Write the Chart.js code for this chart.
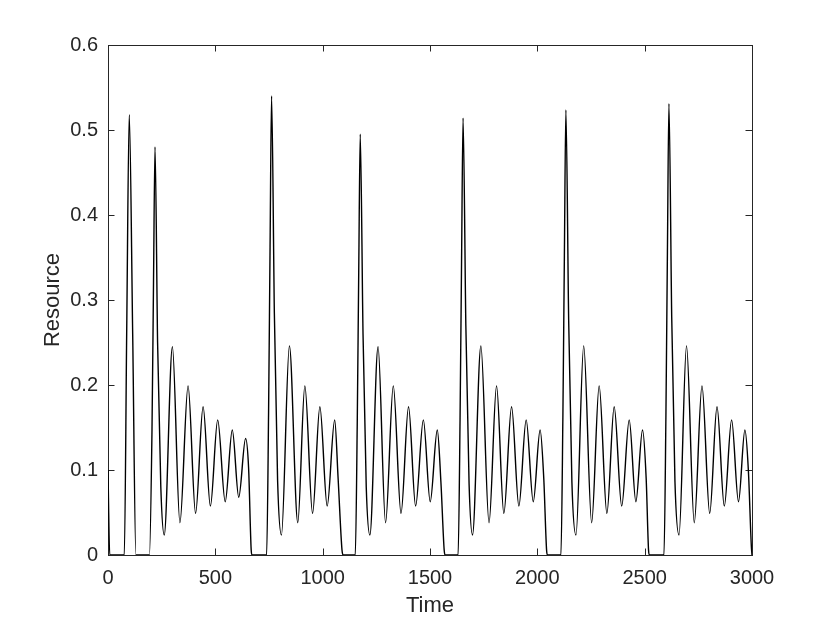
<!DOCTYPE html>
<html>
<head>
<meta charset="utf-8">
<script src="https://cdn.jsdelivr.net/npm/chart.js@4/dist/chart.umd.min.js"></script>
<style>
  html, body { margin: 0; padding: 0; background: #ffffff; }
  #wrap { width: 830px; height: 623px; }
</style>
</head>
<body>
<div id="wrap"><canvas id="c" width="830" height="623"></canvas></div>
<script>
// ---- Data ----
const cycle1Time  = [0, 8, 76, 87, 99, 115, 130, 193, 205, 212, 219, 231, 246, 262, 300, 335, 373, 408, 443, 477, 511, 546, 579, 609, 641, 655, 667, 671];
const cycle1Value = [0.10, 0, 0, 0.26, 0.518, 0.26, 0, 0, 0.148, 0.32, 0.480, 0.25, 0.08, 0.0235, 0.245, 0.038, 0.199, 0.049, 0.1745, 0.0576, 0.159, 0.0627, 0.147, 0.068, 0.137, 0.102, 0.006, 0];

const cycle2Time  = [739, 748, 755, 762, 775, 790, 808, 845, 884, 917, 953, 987, 1021, 1056, 1072, 1090, 1095];
const cycle2Value = [0, 0.167, 0.363, 0.540, 0.284, 0.088, 0.0235, 0.246, 0.038, 0.199, 0.049, 0.1745, 0.0576, 0.159, 0.09, 0.006, 0];

const cycle3Time  = [1152, 1161, 1168, 1175, 1188, 1203, 1220, 1258, 1293, 1329, 1365, 1400, 1433, 1469, 1501, 1534, 1551, 1566, 1570];
const cycle3Value = [0, 0.153, 0.333, 0.495, 0.26, 0.08, 0.0235, 0.245, 0.038, 0.199, 0.049, 0.1745, 0.0576, 0.159, 0.0627, 0.147, 0.085, 0.006, 0];

const cycle4Time  = [1631, 1640, 1647, 1654, 1667, 1682, 1698, 1737, 1775, 1810, 1844, 1880, 1914, 1948, 1981, 2013, 2030, 2043, 2047];
const cycle4Value = [0, 0.159, 0.345, 0.514, 0.27, 0.084, 0.0235, 0.246, 0.038, 0.199, 0.049, 0.1745, 0.0576, 0.159, 0.0627, 0.147, 0.09, 0.006, 0];

const cycle5Time  = [2110, 2119, 2126, 2133, 2146, 2161, 2180, 2216, 2253, 2288, 2324, 2358, 2393, 2428, 2459, 2490, 2507, 2518, 2522];
const cycle5Value = [0, 0.162, 0.352, 0.5235, 0.276, 0.086, 0.0235, 0.246, 0.038, 0.199, 0.049, 0.1745, 0.0576, 0.159, 0.0627, 0.147, 0.09, 0.006, 0];

const cycle6Time  = [2590, 2599, 2606, 2613, 2626, 2641, 2660, 2695, 2731, 2767, 2803, 2837, 2871, 2905, 2937, 2967, 2983, 2997, 3000];
const cycle6Value = [0, 0.164, 0.357, 0.531, 0.28, 0.087, 0.0235, 0.246, 0.038, 0.199, 0.049, 0.1745, 0.0576, 0.159, 0.0627, 0.147, 0.10, 0.01, 0];

const xTickLabels = ['0', '500', '1000', '1500', '2000', '2500', '3000'];
const yTickLabels = ['0', '0.1', '0.2', '0.3', '0.4', '0.5', '0.6'];
const xTitle = 'Time';
const yTitle = 'Resource';

// ---- Build point list ----
const allTimes = [].concat(cycle1Time, cycle2Time, cycle3Time, cycle4Time, cycle5Time, cycle6Time);
const allValues = [].concat(cycle1Value, cycle2Value, cycle3Value, cycle4Value, cycle5Value, cycle6Value);
const points = allTimes.map((t, i) => ({ x: t, y: allValues[i] }));

const AXIS_COLOR = '#262626';
const FONT = "'Liberation Sans', Arial, Helvetica, sans-serif";

// Box around the axes with inward ticks on all four sides (MATLAB style)
const matlabBox = {
  id: 'matlabBox',
  beforeDatasetsDraw(chart) {
    const { ctx, chartArea: a, scales } = chart;
    const L = 6.5;
    ctx.save();
    ctx.strokeStyle = AXIS_COLOR;
    ctx.lineWidth = 1;
    ctx.beginPath();
    scales.x.ticks.forEach(t => {
      const px = Math.round(scales.x.getPixelForValue(t.value)) + 0.5;
      ctx.moveTo(px, a.bottom); ctx.lineTo(px, a.bottom - L);
      ctx.moveTo(px, a.top); ctx.lineTo(px, a.top + L);
    });
    scales.y.ticks.forEach(t => {
      const py = Math.round(scales.y.getPixelForValue(t.value)) + 0.5;
      ctx.moveTo(a.left, py); ctx.lineTo(a.left + L, py);
      ctx.moveTo(a.right, py); ctx.lineTo(a.right - L, py);
    });
    ctx.stroke();
    ctx.strokeRect(a.left + 0.5, a.top + 0.5, a.right - a.left, a.bottom - a.top);
    ctx.restore();
  }
};

new Chart(document.getElementById('c'), {
  type: 'line',
  data: {
    datasets: [{
      data: points,
      borderColor: '#000000',
      borderWidth: 1.4,
      pointRadius: 0,
      fill: false,
      cubicInterpolationMode: 'monotone'
    }]
  },
  options: {
    responsive: false,
    devicePixelRatio: 1,
    animation: false,
    layout: { padding: { top: 45, right: 78, left: 0, bottom: 0 } },
    plugins: { legend: { display: false }, tooltip: { enabled: false } },
    scales: {
      x: {
        type: 'linear',
        min: 0, max: 3000,
        grid: { display: false, drawTicks: false },
        border: { display: false },
        ticks: {
          stepSize: 500,
          padding: 11,
          color: AXIS_COLOR,
          font: { family: FONT, size: 20 },
          maxRotation: 0,
          callback: (v, i) => xTickLabels[i]
        },
        title: {
          display: true, text: xTitle, color: AXIS_COLOR,
          font: { family: FONT, size: 22 },
          padding: { top: 0, bottom: 4 }
        },
        afterFit: s => { s.height = 68; }
      },
      y: {
        type: 'linear',
        min: 0, max: 0.6,
        grid: { display: false, drawTicks: false },
        border: { display: false },
        ticks: {
          stepSize: 0.1,
          padding: 10,
          color: AXIS_COLOR,
          font: { family: FONT, size: 20 },
          callback: (v, i) => yTickLabels[i]
        },
        title: {
          display: true, text: yTitle, color: AXIS_COLOR,
          font: { family: FONT, size: 22 },
          padding: { top: 40, bottom: 0 }
        },
        afterFit: s => { s.width = 108; }
      }
    }
  },
  plugins: [matlabBox]
});
</script>
</body>
</html>
